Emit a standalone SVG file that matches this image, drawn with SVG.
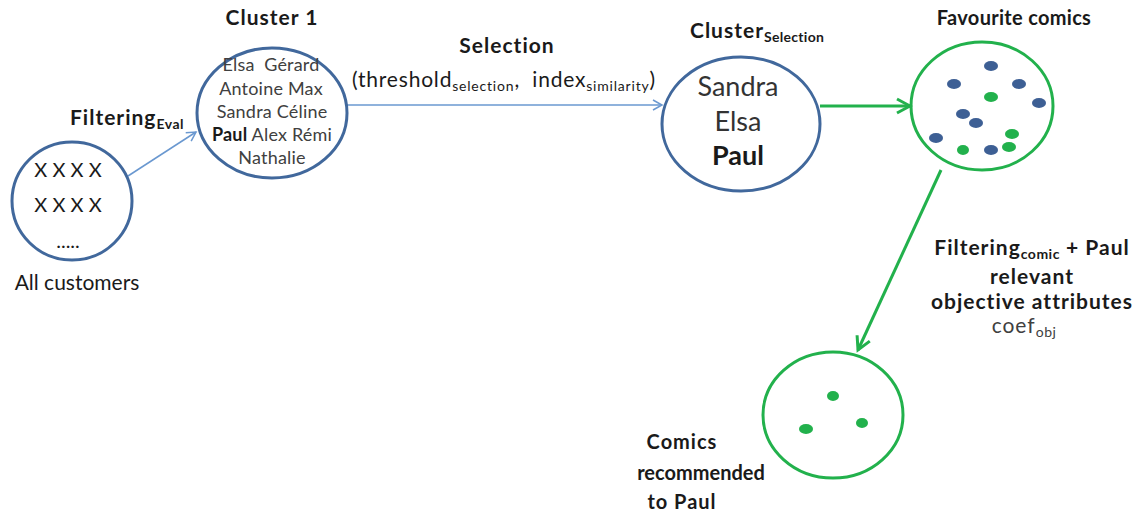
<svg xmlns="http://www.w3.org/2000/svg" width="1144" height="517" viewBox="0 0 1144 517">
<style>
text{font-family:Lato,"Open Sans","Liberation Sans",sans-serif;fill:#1a1a1a}
.b{font-weight:bold}
.m{text-anchor:middle}
.blue{fill:none;stroke:#41689c;stroke-width:3}
.green{fill:none;stroke:#22b14c;stroke-width:3}
.bd{fill:#3d5f94}
.gd{fill:#22b14c}
.names{font-size:18px;fill:#404040;letter-spacing:0.2px}
.lbl{font-size:21px;letter-spacing:1px}
</style>
<defs>
<marker id="ab" markerWidth="12" markerHeight="12" refX="10" refY="6" orient="auto" markerUnits="userSpaceOnUse">
<path d="M1,1 L10,6 L1,11" fill="none" stroke="#6a98d0" stroke-width="1.5"/>
</marker>
<marker id="ag" markerWidth="18" markerHeight="18" refX="15" refY="9" orient="auto" markerUnits="userSpaceOnUse">
<path d="M2,2 L15,9 L2,16" fill="none" stroke="#22b14c" stroke-width="3"/>
</marker>
</defs>
<rect width="1144" height="517" fill="#fff"/>
<g id="connectors">
<line x1="128" y1="176" x2="196" y2="132" stroke="#6a98d0" stroke-width="1.5" marker-end="url(#ab)"/>
<line x1="347" y1="105" x2="662" y2="105" stroke="#6a98d0" stroke-width="1.5" marker-end="url(#ab)"/>
<line x1="820" y1="106" x2="910" y2="106" stroke="#22b14c" stroke-width="3" marker-end="url(#ag)"/>
<line x1="941" y1="170" x2="858" y2="350" stroke="#22b14c" stroke-width="3" marker-end="url(#ag)"/>
</g>
<g id="label-filtering-eval">
<text x="70" y="125" class="b lbl">Filtering<tspan font-size="14" dy="4" letter-spacing="0.5">Eval</tspan></text>
</g>
<g id="label-selection">
<text x="507" y="53" class="b m lbl" letter-spacing="1.2">Selection</text>
<text x="352" y="87" font-size="21" letter-spacing="0.8" xml:space="preserve">(threshold<tspan font-size="14" dy="4">selection</tspan><tspan dy="-4">,  index</tspan><tspan font-size="14" dy="4">similarity</tspan><tspan dy="-4">)</tspan></text>
</g>
<g id="label-filtering-comic">
<text x="1032" y="255" class="b m lbl">Filtering<tspan font-size="14" dy="4" letter-spacing="0.5">comic</tspan><tspan dy="-4"> + Paul</tspan></text>
<text x="1032" y="284" class="b m lbl">relevant</text>
<text x="1032" y="309" class="b m lbl" letter-spacing="1.3">objective attributes</text>
<text x="1024" y="333" class="m lbl" style="fill:#404040">coef<tspan font-size="14" dy="4" letter-spacing="0.5">obj</tspan></text>
</g>
<g id="node-all-customers">
<ellipse cx="72" cy="201" rx="60" ry="59" class="blue"/>
<text x="68" y="177" class="m" font-size="20">X X X X</text>
<text x="68" y="212" class="m" font-size="20">X X X X</text>
<text x="68" y="248" class="m" font-size="20">.....</text>
<text x="77" y="290" class="m" font-size="21">All customers</text>
</g>
<g id="node-cluster1">
<ellipse cx="272" cy="113" rx="75" ry="65" class="blue"/>
<text x="272" y="25" class="b m lbl" letter-spacing="0.8">Cluster 1</text>
<text x="271" y="71" class="m names" xml:space="preserve">Elsa  Gérard</text>
<text x="271" y="95" class="m names">Antoine Max</text>
<text x="272" y="118" class="m names">Sandra Céline</text>
<text x="272" y="141" class="m names"><tspan font-weight="bold" style="fill:#1a1a1a">Paul</tspan> Alex Rémi</text>
<text x="272" y="164" class="m names">Nathalie</text>
</g>
<g id="node-cluster-selection">
<ellipse cx="741" cy="124" rx="79" ry="67" class="blue"/>
<text x="690" y="38" class="b lbl" letter-spacing="0.6">Cluster<tspan font-size="14" dy="4" letter-spacing="0.3">Selection</tspan></text>
<text x="738" y="96" class="m" font-size="27" style="fill:#333">Sandra</text>
<text x="738" y="131" class="m" font-size="27" style="fill:#333">Elsa</text>
<text x="738" y="165" class="b m" font-size="27">Paul</text>
</g>
<g id="node-favourite-comics">
<ellipse cx="982" cy="106" rx="71" ry="64" class="green"/>
<text x="1014" y="25" class="b m" font-size="20" letter-spacing="0.3">Favourite comics</text>
<ellipse cx="991" cy="66" rx="7" ry="5" class="bd"/>
<ellipse cx="954" cy="84" rx="7" ry="5" class="bd"/>
<ellipse cx="1019" cy="84" rx="7" ry="5" class="bd"/>
<ellipse cx="1039" cy="103" rx="7" ry="5" class="bd"/>
<ellipse cx="963" cy="114" rx="7" ry="5" class="bd"/>
<ellipse cx="976" cy="123" rx="7" ry="5" class="bd"/>
<ellipse cx="936" cy="138" rx="7" ry="5" class="bd"/>
<ellipse cx="991" cy="150" rx="7" ry="5" class="bd"/>
<ellipse cx="991" cy="97" rx="7" ry="5" class="gd"/>
<ellipse cx="1012" cy="134" rx="7" ry="5" class="gd"/>
<ellipse cx="1009" cy="147" rx="7" ry="5" class="gd"/>
<ellipse cx="963" cy="150" rx="6" ry="5" class="gd"/>
</g>
<g id="node-recommended">
<ellipse cx="833" cy="415" rx="70" ry="63" class="green"/>
<ellipse cx="833" cy="396" rx="6" ry="5" class="gd"/>
<ellipse cx="862" cy="423" rx="6" ry="5" class="gd"/>
<ellipse cx="806" cy="429" rx="7" ry="5" class="gd"/>
<text x="682" y="449" class="b m" font-size="20" letter-spacing="1">Comics</text>
<text x="701" y="480" class="b m" font-size="20">recommended</text>
<text x="682" y="509" class="b m" font-size="20" letter-spacing="1">to Paul</text>
</g>
</svg>
